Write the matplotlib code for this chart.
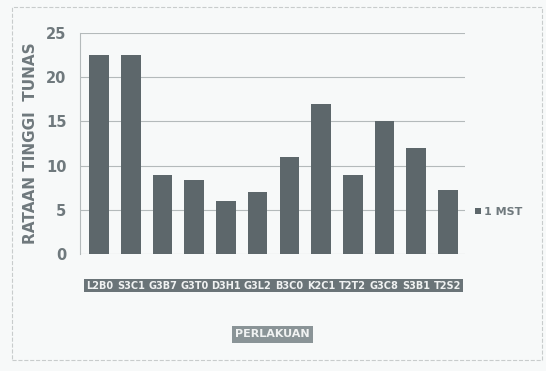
import matplotlib
matplotlib.use('Agg')
import matplotlib.pyplot as plt
from matplotlib.patches import Rectangle

# data
perlakuan = ['L2B0', 'S3C1', 'G3B7', 'G3T0', 'D3H1', 'G3L2',
             'B3C0', 'K2C1', 'T2T2', 'G3C8', 'S3B1', 'T2S2']
mst1 = [22.5, 22.5, 9.0, 8.4, 6.0, 7.0, 11.0, 17.0, 9.0, 15.0, 12.0, 7.2]
yticks = [0, 5, 10, 15, 20, 25]

txt = '#6f797d'
bar_col = '#5d676b'

fig = plt.figure(figsize=(5.46, 3.71), dpi=100)
fig.patch.set_facecolor('#f7f9f9')

# page border of the scan
fig.patches.append(Rectangle((0.022, 0.03), 0.97, 0.95, transform=fig.transFigure,
                             fill=False, edgecolor='#c8cccc', linestyle='--', linewidth=0.8))

ax = fig.add_axes([0.147, 0.315, 0.705, 0.596])
ax.set_facecolor('#f7f9f9')

x = range(len(perlakuan))
ax.bar(x, mst1, width=0.62, color=bar_col, label='1 MST', zorder=3)

ax.set_ylim(0, 25)
ax.set_xlim(-0.6, len(perlakuan) - 0.45)
ax.set_yticks(yticks)
ax.set_yticklabels([str(v) for v in yticks], fontsize=10.5, fontweight='bold', color=txt)
ax.set_xticks(list(x))
ax.set_xticklabels(perlakuan, fontsize=7, fontweight='bold', color='#f0f2f2',
                   bbox=dict(boxstyle='square,pad=0.2', fc='#6a7478', ec='none'))
ax.tick_params(axis='y', length=0, pad=10)
ax.tick_params(axis='x', length=0, pad=19)

ax.grid(axis='y', color='#b4babb', linewidth=0.8, zorder=0)
for s in ['top', 'right', 'bottom']:
    ax.spines[s].set_visible(False)
ax.spines['left'].set_color('#b4babb')

ax.set_ylabel('RATAAN TINGGI  TUNAS', fontsize=11, fontweight='bold', color=txt, labelpad=6)
ax.set_xlabel('PERLAKUAN', fontsize=8, fontweight='bold', color='#f0f2f2', labelpad=28,
              bbox=dict(boxstyle='square,pad=0.3', fc='#8a9497', ec='none'))

leg = ax.legend(loc='center left', bbox_to_anchor=(1.0, 0.19), frameon=False,
                handlelength=0.5, handleheight=0.5, handletextpad=0.3, fontsize=8)
for t in leg.get_texts():
    t.set_color(txt)
    t.set_fontweight('bold')

fig.savefig('out.png', dpi=100, facecolor=fig.get_facecolor())
